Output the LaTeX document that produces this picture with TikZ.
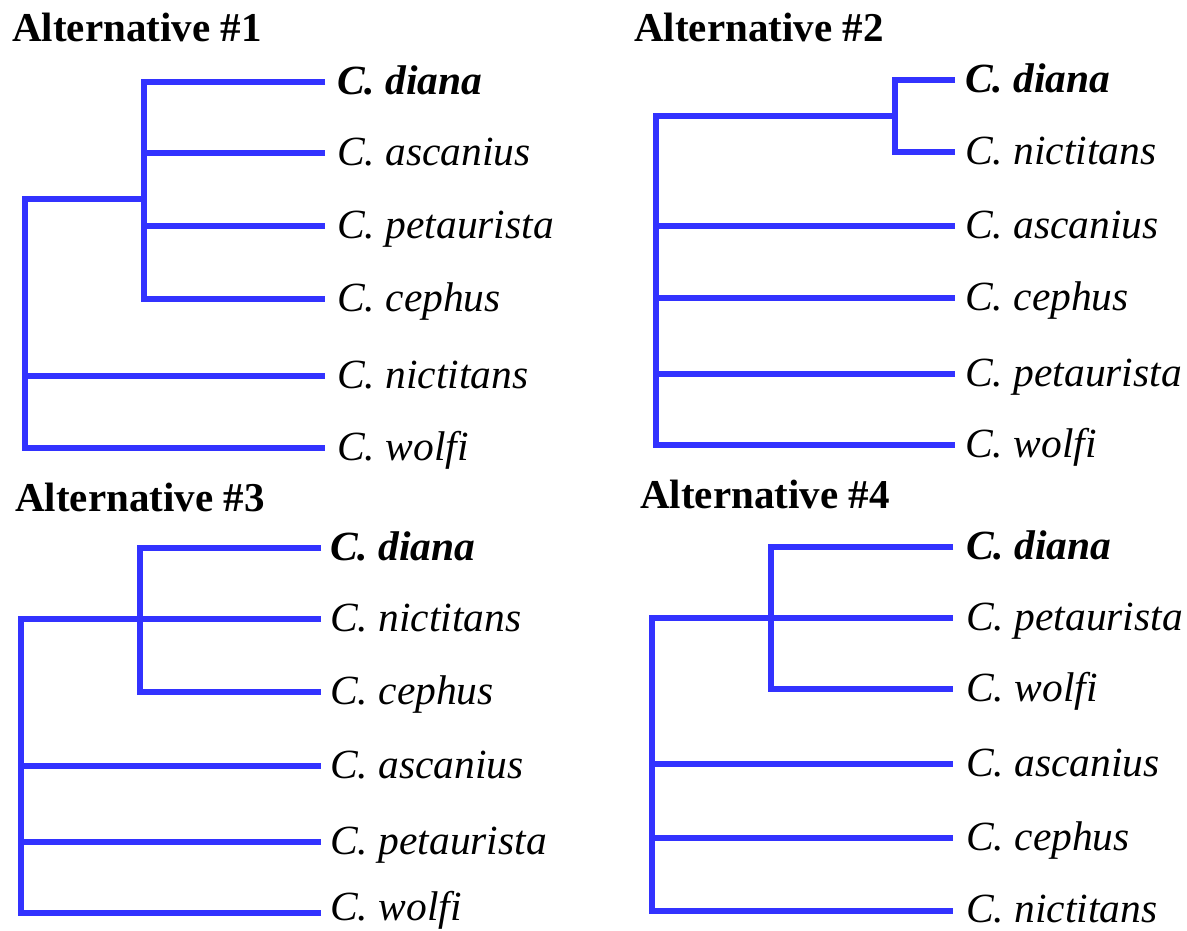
\documentclass[tikz,border=0pt]{standalone}
\usepackage{fontspec}
\setmainfont{Liberation Serif}
\definecolor{treeblue}{RGB}{50,50,255}
\tikzset{
  branch/.style={draw=treeblue, line width=6pt, line join=miter, line cap=butt},
  taxon/.style={anchor=base west, inner sep=0pt, font=\fontsize{41.5}{48}\selectfont\itshape},
  focal/.style={taxon, font=\fontsize{41.5}{48}\selectfont\bfseries\itshape},
  heading/.style={anchor=base west, inner sep=0pt, font=\fontsize{41}{48}\selectfont\bfseries}
}
\begin{document}
\begin{tikzpicture}[x=1pt, y=-1pt]
\useasboundingbox (0,0) rectangle (1187,930);

% ---------------- Alternative #1 ----------------
\node[heading] (h1) at (12,41) {Alternative \#1};
\coordinate (p1r) at (24.5,199);
\coordinate (p1a) at (143.5,82);
\coordinate (p1b) at (143.5,299);
\foreach \i/\y in {1/82,2/153,3/226,4/299,5/376,6/448}
  \coordinate (p1e\i) at (325,\y);
\node[focal] (p1t1) at (337,94) {C. diana};
\node[taxon] (p1t2) at (337,165) {C. ascanius};
\node[taxon] (p1t3) at (337,238) {C. petaurista};
\node[taxon] (p1t4) at (337,311) {C. cephus};
\node[taxon] (p1t5) at (337,388) {C. nictitans};
\node[taxon] (p1t6) at (337,460) {C. wolfi};
\draw[branch] (p1e1) -- (p1a) -- (p1b) -- (p1e4);
\draw[branch] (p1e2 -| p1a) -- (p1e2);
\draw[branch] (p1e3 -| p1a) -- (p1e3);
\draw[branch] (p1r -| p1a) -- (p1r) -- (p1r |- p1e6) -- (p1e6);
\draw[branch] (p1e5 -| p1r) -- (p1e5);

% ---------------- Alternative #2 ----------------
\node[heading] (h2) at (634,41) {Alternative \#2};
\coordinate (p2r) at (656,116);
\coordinate (p2a) at (895,80);
\coordinate (p2b) at (895,152);
\foreach \i/\y in {1/80,2/152,3/226,4/298,5/374,6/445}
  \coordinate (p2e\i) at (955,\y);
\node[focal] (p2t1) at (965,92) {C. diana};
\node[taxon] (p2t2) at (965,164) {C. nictitans};
\node[taxon] (p2t3) at (965,238) {C. ascanius};
\node[taxon] (p2t4) at (965,310) {C. cephus};
\node[taxon] (p2t5) at (965,386) {C. petaurista};
\node[taxon] (p2t6) at (965,457) {C. wolfi};
\draw[branch] (p2e1) -- (p2a) -- (p2b) -- (p2e2);
\draw[branch] (p2r -| p2a) -- (p2r) -- (p2r |- p2e6) -- (p2e6);
\draw[branch] (p2e3 -| p2r) -- (p2e3);
\draw[branch] (p2e4 -| p2r) -- (p2e4);
\draw[branch] (p2e5 -| p2r) -- (p2e5);

% ---------------- Alternative #3 ----------------
\node[heading] (h3) at (15,511) {Alternative \#3};
\coordinate (p3r) at (21,619);
\coordinate (p3a) at (140,548);
\coordinate (p3b) at (140,692);
\foreach \i/\y in {1/548,2/619,3/692,4/766,5/842,6/913}
  \coordinate (p3e\i) at (321,\y);
\node[focal] (p3t1) at (330,560) {C. diana};
\node[taxon] (p3t2) at (330,631) {C. nictitans};
\node[taxon] (p3t3) at (330,704) {C. cephus};
\node[taxon] (p3t4) at (330,778) {C. ascanius};
\node[taxon] (p3t5) at (330,854) {C. petaurista};
\node[taxon] (p3t6) at (330,920) {C. wolfi};
\draw[branch] (p3e1) -- (p3a) -- (p3b) -- (p3e3);
\draw[branch] (p3e2 -| p3a) -- (p3e2);
\draw[branch] (p3r -| p3a) -- (p3r) -- (p3r |- p3e6) -- (p3e6);
\draw[branch] (p3e4 -| p3r) -- (p3e4);
\draw[branch] (p3e5 -| p3r) -- (p3e5);

% ---------------- Alternative #4 ----------------
\node[heading] (h4) at (640,508) {Alternative \#4};
\coordinate (p4r) at (652,618);
\coordinate (p4a) at (771,547);
\coordinate (p4b) at (771,689);
\foreach \i/\y in {1/547,2/618,3/689,4/764,5/838,6/911}
  \coordinate (p4e\i) at (953,\y);
\node[focal] (p4t1) at (966,559) {C. diana};
\node[taxon] (p4t2) at (966,630) {C. petaurista};
\node[taxon] (p4t3) at (966,701) {C. wolfi};
\node[taxon] (p4t4) at (966,776) {C. ascanius};
\node[taxon] (p4t5) at (966,850) {C. cephus};
\node[taxon] (p4t6) at (966,922) {C. nictitans};
\draw[branch] (p4e1) -- (p4a) -- (p4b) -- (p4e3);
\draw[branch] (p4e2 -| p4a) -- (p4e2);
\draw[branch] (p4r -| p4a) -- (p4r) -- (p4r |- p4e6) -- (p4e6);
\draw[branch] (p4e4 -| p4r) -- (p4e4);
\draw[branch] (p4e5 -| p4r) -- (p4e5);
\end{tikzpicture}
\end{document}
